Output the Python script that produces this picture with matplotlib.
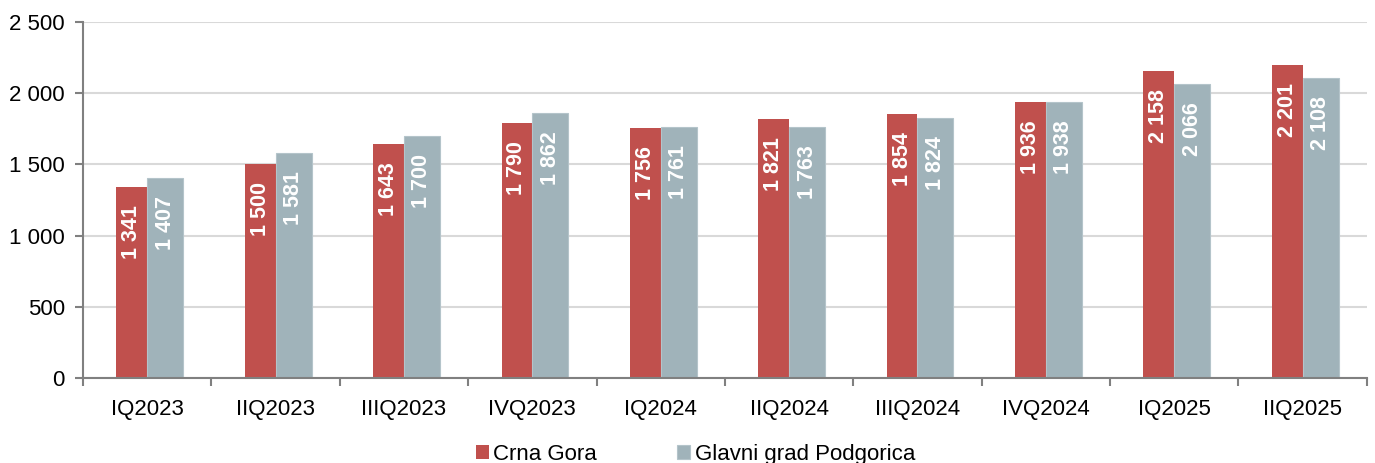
import matplotlib.pyplot as plt
import numpy as np
from matplotlib.ticker import FuncFormatter, MultipleLocator

quarters = ["IQ2023", "IIQ2023", "IIIQ2023", "IVQ2023", "IQ2024",
            "IIQ2024", "IIIQ2024", "IVQ2024", "IQ2025", "IIQ2025"]
crna_gora = [1341, 1500, 1643, 1790, 1756, 1821, 1854, 1936, 2158, 2201]
podgorica = [1407, 1581, 1700, 1862, 1761, 1763, 1824, 1938, 2066, 2108]

plt.rcParams['font.family'] = ['Liberation Sans', 'DejaVu Sans']

red = "#C0504D"
grey = "#A0B3BA"

def fmt(v, pos=None):
    return f"{int(v):,}".replace(",", " ")

fig = plt.figure(figsize=(13.75, 4.63), dpi=100)
ax = fig.add_axes([0.0604, 0.1836, 0.9336, 0.7689])

x = np.arange(len(quarters))
b1 = ax.bar(x - 0.24, crna_gora, width=0.24, align='edge', color=red,
            label="Crna Gora", zorder=3)
b2 = ax.bar(x, podgorica, width=0.28, align='edge', color=grey,
            edgecolor="#b4c4ca", linewidth=0.8, label="Glavni grad Podgorica", zorder=3)

for bars, vals in ((b1, crna_gora), (b2, podgorica)):
    for rect, v in zip(bars, vals):
        ax.annotate(fmt(v), (rect.get_x() + rect.get_width() / 2, v),
                    xytext=(0, -13), textcoords="offset points",
                    rotation=90, ha="center", va="top", color="white",
                    fontsize=15.5, fontweight="bold", zorder=4)

ax.set_xlim(-0.5, 9.5)
ax.set_ylim(0, 2500)
ax.yaxis.set_major_locator(MultipleLocator(500))
ax.yaxis.set_major_formatter(FuncFormatter(fmt))
ax.grid(axis="y", color="#d9d9d9", linewidth=1.5, zorder=0)

ax.set_xticks(x)
ax.set_xticklabels(quarters)
ax.set_xticks(np.arange(-0.5, 10, 1), minor=True)
ax.tick_params(axis="x", which="major", length=0, pad=15, labelsize=16)
ax.tick_params(axis="x", which="minor", length=6, color="#808080", width=1.5)
ax.tick_params(axis="y", length=6, color="#808080", width=1.5, labelsize=16, pad=7)

for s in ("top", "right"):
    ax.spines[s].set_visible(False)
for s in ("left", "bottom"):
    ax.spines[s].set_color("#808080")
    ax.spines[s].set_linewidth(1.5)
    ax.spines[s].set_zorder(5)

ax.legend(loc="lower center", bbox_to_anchor=(0.477, -0.30), ncol=2, frameon=False,
          fontsize=16, handlelength=0.6, handleheight=0.6, handletextpad=0.2,
          columnspacing=3.6)

fig.savefig("out.png", dpi=100)
